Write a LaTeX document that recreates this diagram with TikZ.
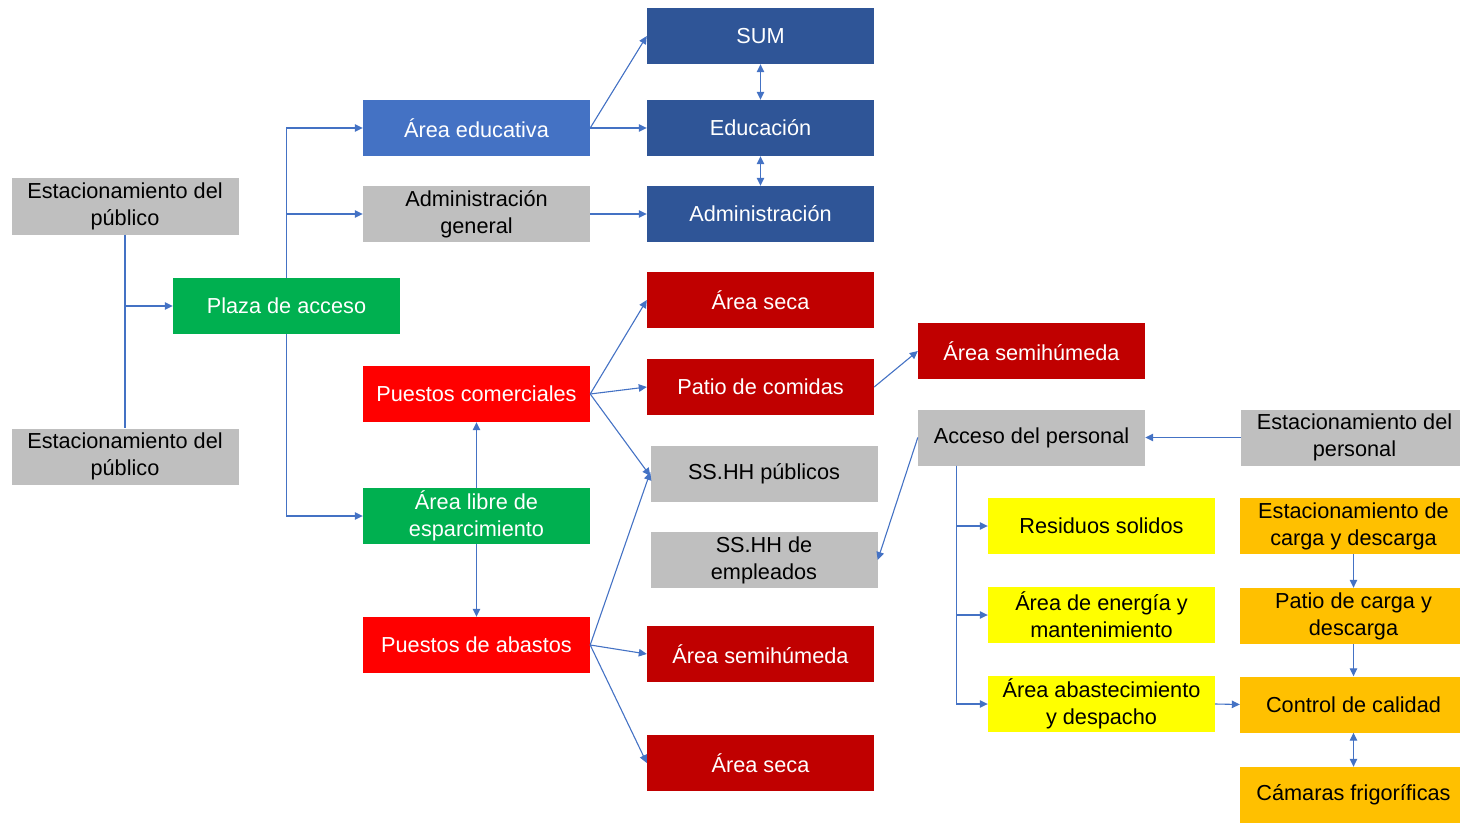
\documentclass[tikz,border=0pt]{standalone}
\usepackage{fontspec}
\setmainfont{Liberation Sans}
\usetikzlibrary{arrows.meta}
\definecolor{cgray}{HTML}{BFBFBF}
\definecolor{cgreen}{HTML}{00B050}
\definecolor{cblue}{HTML}{4472C4}
\definecolor{cdblue}{HTML}{2F5597}
\definecolor{cred}{HTML}{FF0000}
\definecolor{cdred}{HTML}{C00000}
\definecolor{cyellow}{HTML}{FFFF00}
\definecolor{corange}{HTML}{FFC000}
\definecolor{cline}{HTML}{4472C4}
\begin{document}
\begin{tikzpicture}[x=1pt,y=-1pt,
  box/.style={rectangle, draw=none, minimum width=227pt, minimum height=56pt,
    inner sep=0pt, align=center, font=\fontsize{21.7}{27}\selectfont},
  graybox/.style={box, fill=cgray, text=black},
  greenbox/.style={box, fill=cgreen, text=white},
  bluebox/.style={box, fill=cblue, text=white},
  dbluebox/.style={box, fill=cdblue, text=white},
  redbox/.style={box, fill=cred, text=white},
  dredbox/.style={box, fill=cdred, text=white},
  yellowbox/.style={box, fill=cyellow, text=black},
  orangebox/.style={box, fill=corange, text=black},
  link/.style={draw=cline, line width=1.1pt},
  arr/.style={link, -{Triangle[length=8pt,width=7.5pt]}},
  darr/.style={link, {Triangle[length=8pt,width=7.5pt]}-{Triangle[length=8pt,width=7.5pt]}}
]
\useasboundingbox (0,0) rectangle (1460,824);

% left column
\node[graybox] (ep1) at (125,206.5) {Estacionamiento del\\público};
\node[graybox] (ep2) at (125,456.5) {Estacionamiento del\\público};
\node[greenbox] (plaza) at (286.5,306) {Plaza de acceso};

% second column
\node[bluebox] (edu) at (476.5,128) {Área educativa};
\node[graybox] (admg) at (476.5,214) {Administración\\general};
\node[redbox] (com) at (476.5,394) {Puestos comerciales};
\node[greenbox] (libre) at (476.5,516) {Área libre de\\esparcimiento};
\node[redbox] (aba) at (476.5,645) {Puestos de abastos};

% third column
\node[dbluebox] (sum) at (760.5,36) {SUM};
\node[dbluebox] (educ) at (760.5,128) {Educación};
\node[dbluebox] (adm) at (760.5,214) {Administración};
\node[dredbox] (seca1) at (760.5,300) {Área seca};
\node[dredbox] (patio) at (760.5,387) {Patio de comidas};
\node[graybox] (ssp) at (764,474) {SS.HH públicos};
\node[graybox] (sse) at (764,560) {SS.HH de\\empleados};
\node[dredbox] (semi1) at (760.5,654) {Área semihúmeda};
\node[dredbox] (seca2) at (760.5,763) {Área seca};

% fourth column
\node[dredbox] (semi2) at (1031.5,351) {Área semihúmeda};
\node[graybox] (acc) at (1031.5,437.5) {Acceso del personal};
\node[yellowbox] (res) at (1101.5,526) {Residuos solidos};
\node[yellowbox] (ene) at (1101.5,615) {Área de energía y\\mantenimiento};
\node[yellowbox] (abs) at (1101.5,704) {Área abastecimiento\\y despacho};

% right column
\node[graybox] (epers) at (1354.5,437.5) {Estacionamiento del\\personal};
\node[orangebox] (ecar) at (1353.5,526) {Estacionamiento de\\carga y descarga};
\node[orangebox] (pcar) at (1353.5,616) {Patio de carga y\\descarga};
\node[orangebox] (ctrl) at (1353.5,704.5) {Control de calidad};
\node[orangebox] (cam) at (1353.5,795) {Cámaras frigoríficas};

% public parking to access plaza
\draw[link] (ep1.south) -- (ep2.north);
\draw[arr] (ep1.south |- plaza.west) -- (plaza.west);

% access plaza branches
\draw[arr] (plaza.north) |- (edu.west);
\draw[arr] (plaza.north) |- (admg.west);
\draw[arr] (plaza.south) |- (libre.west);

% education and administration
\draw[arr] (edu.east) -- (sum.west);
\draw[arr] (edu.east) -- (educ.west);
\draw[arr] (admg.east) -- (adm.west);
\draw[darr] (sum.south) -- (educ.north);
\draw[darr] (educ.south) -- (adm.north);

% commercial stalls
\draw[arr] (com.east) -- (seca1.west);
\draw[arr] (com.east) -- (patio.west);
\draw[arr] (com.east) -- ([yshift=-2pt]ssp.west);
\draw[arr] (libre.north) -- (com.south);
\draw[arr] (libre.south) -- (aba.north);

% supply stalls
\draw[arr] (aba.east) -- ([yshift=2pt]ssp.west);
\draw[arr] (aba.east) -- (semi1.west);
\draw[arr] (aba.east) -- (seca2.west);

% food court and staff access
\draw[arr] (patio.east) -- (semi2.west);
\draw[arr] (acc.west) -- (sse.east);
\draw[arr] (epers.west) -- (acc.east);

% service areas
\draw[arr] ([xshift=39pt]acc.south west) |- (res.west);
\draw[arr] ([xshift=39pt]acc.south west) |- (ene.west);
\draw[arr] ([xshift=39pt]acc.south west) |- (abs.west);
\draw[arr] (abs.east) -- (ctrl.west);

% loading chain
\draw[arr] (ecar.south) -- (pcar.north);
\draw[arr] (pcar.south) -- (ctrl.north);
\draw[darr] (ctrl.south) -- (cam.north);
\end{tikzpicture}
\end{document}
